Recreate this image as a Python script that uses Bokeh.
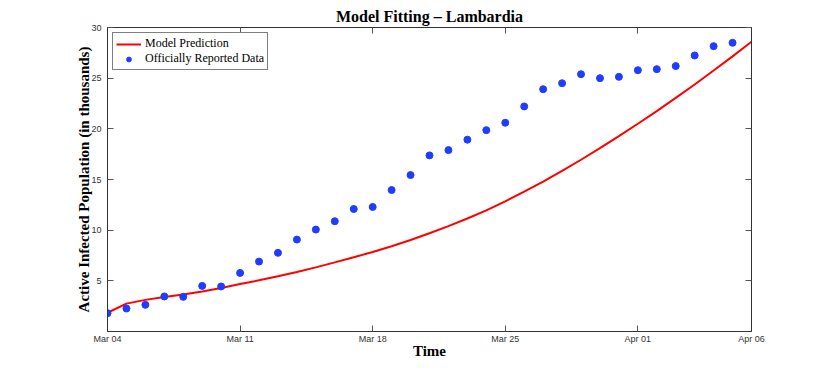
import pandas as pd
from bokeh.plotting import figure
from bokeh.models import LinearAxis, FixedTicker, Range1d, Legend, LegendItem
from bokeh.embed import file_html
from bokeh.resources import INLINE

# ---- data (thousands of active infected) ----
start_date = "2020-03-04"
report_dates = list(pd.date_range("2020-03-04", "2020-04-06", freq="D"))
reported = [1.81, 2.27, 2.63, 3.46, 3.42, 4.50, 4.44, 5.78, 6.90, 7.76,
            9.07, 10.06, 10.88, 12.09, 12.29, 13.96, 15.44, 17.38, 17.90, 18.93,
            19.87, 20.60, 22.21, 23.91, 24.50, 25.39, 25.00, 25.13, 25.79, 25.89,
            26.19, 27.24, 28.16, 28.49]

model_dates = list(pd.date_range("2020-03-04", "2020-04-07", freq="D"))
model = [1.85, 2.75, 3.12, 3.40, 3.65, 3.95, 4.30, 4.68, 5.05, 5.45,
         5.88, 6.33, 6.82, 7.32, 7.85, 8.42, 9.03, 9.70, 10.40, 11.15,
         11.95, 12.85, 13.80, 14.80, 15.85, 16.95, 18.10, 19.28, 20.50, 21.75,
         23.05, 24.38, 25.75, 27.15, 28.60]

x_tick_days = [0, 7, 14, 21, 28, 34]
x_tick_labels = ["Mar 04", "Mar 11", "Mar 18", "Mar 25", "Apr 01", "Apr 06"]
y_ticks = [5, 10, 15, 20, 25, 30]

t0 = pd.Timestamp(start_date)
report_x = [(d - t0).days for d in report_dates]
model_x = [(d - t0).days for d in model_dates]

SERIF = "Liberation Serif"
SANS = "Liberation Sans"

p = figure(frame_width=644, frame_height=304,
           x_range=Range1d(0, 34), y_range=Range1d(0, 30),
           output_backend="svg", toolbar_location=None,
           min_border_left=107, min_border_right=60,
           min_border_top=27, min_border_bottom=26)

p.title.text = "Model Fitting \u2013 Lambardia"
p.title.align = "center"
p.title.text_font = SERIF
p.title.text_font_style = "bold"
p.title.text_font_size = "16px"
p.title.text_color = "black"
p.title.standoff = 6

p.xgrid.visible = False
p.ygrid.visible = False
p.outline_line_color = "#333333"
p.outline_line_width = 1

def style_axis(ax):
    ax.major_tick_in = 6
    ax.major_tick_out = 0
    ax.minor_tick_line_color = None
    ax.major_tick_line_color = "#555555"
    ax.axis_line_color = "#333333"
    ax.major_label_text_font = SANS
    ax.major_label_text_font_size = "9px"
    ax.major_label_text_color = "#333333"

xa = p.xaxis[0]
style_axis(xa)
xa.ticker = FixedTicker(ticks=x_tick_days)
xa.major_label_overrides = dict(zip(x_tick_days, x_tick_labels))
xa.major_label_standoff = 2
xa.axis_label = "Time"
xa.axis_label_text_font = SERIF
xa.axis_label_text_font_style = "bold"
xa.axis_label_text_font_size = "15px"
xa.axis_label_text_color = "black"
xa.axis_label_standoff = -4

ya = p.yaxis[0]
style_axis(ya)
ya.ticker = FixedTicker(ticks=y_ticks)
ya.major_label_standoff = 6
ya.axis_label = "Active Infected Population (in thousands)"
ya.axis_label_text_font = SERIF
ya.axis_label_text_font_style = "bold"
ya.axis_label_text_font_size = "15px"
ya.axis_label_text_color = "black"
ya.axis_label_standoff = -4

top = LinearAxis(ticker=FixedTicker(ticks=x_tick_days))
style_axis(top)
top.major_label_text_color = None
top.major_label_text_font_size = "1px"
top.major_label_standoff = 0
p.add_layout(top, "above")

right = LinearAxis(ticker=FixedTicker(ticks=y_ticks))
style_axis(right)
right.major_label_text_color = None
right.major_label_text_font_size = "1px"
right.major_label_standoff = 0
p.add_layout(right, "right")

r_line = p.line(model_x, model, line_color="#ff0000", line_width=2)
r_dots = p.scatter(report_x, reported, size=7, fill_color="#1f3dff",
                   line_color="#1f3dff")

legend = Legend(items=[LegendItem(label="Model Prediction", renderers=[r_line]),
                       LegendItem(label="Officially Reported Data", renderers=[r_dots])],
                location="top_left")
legend.margin = 5
legend.padding = 3
legend.spacing = 0
legend.glyph_width = 25
legend.glyph_height = 12
legend.label_height = 12
legend.label_standoff = 4
legend.label_text_font = SERIF
legend.label_text_font_size = "12px"
legend.label_text_color = "black"
legend.border_line_color = "black"
legend.border_line_width = 1
legend.background_fill_alpha = 1
p.add_layout(legend, "center")

open("out.html", "w").write(file_html(p, INLINE))
